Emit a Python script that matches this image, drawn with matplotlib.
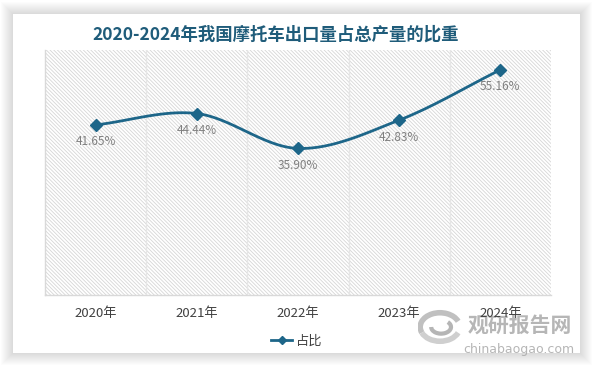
import matplotlib
matplotlib.use("Agg")
import matplotlib.pyplot as plt
import numpy as np
from matplotlib.patches import Rectangle, Arc
from matplotlib.lines import Line2D

plt.rcParams['font.family'] = ['Noto Sans CJK SC', 'DejaVu Sans']
plt.rcParams['hatch.color'] = '#d6d6d6'
plt.rcParams['hatch.linewidth'] = 0.6

years = ['2020年', '2021年', '2022年', '2023年', '2024年']
share = [41.65, 44.44, 35.90, 42.83, 55.16]
labels = ['41.65%', '44.44%', '35.90%', '42.83%', '55.16%']
title = '2020-2024年我国摩托车出口量占总产量的比重'
series_name = '占比'

W, H = 594, 366
fig = plt.figure(figsize=(W / 100, H / 100), dpi=100)
fig.patch.set_facecolor('white')

def fx(x): return x / W
def fy(y): return 1 - y / H

# card with soft shadow
cx0, cy0, cx1, cy1 = 13, 14, 580, 353
for pad in range(12, 0, -1):
    fig.patches.append(Rectangle((fx(cx0 - pad), fy(cy1 + pad)),
                                 fx(cx1 - cx0 + 2 * pad), (cy1 - cy0 + 2 * pad) / H,
                                 transform=fig.transFigure, facecolor='black',
                                 edgecolor='none', alpha=0.012, zorder=0))
fig.patches.append(Rectangle((fx(cx0), fy(cy1)), fx(cx1 - cx0), (cy1 - cy0) / H,
                             transform=fig.transFigure, facecolor='white',
                             edgecolor='none', zorder=1))

ax = fig.add_axes([fx(45), fy(295), fx(551 - 45), (295 - 50) / H])
ax.set_zorder(2)
ax.patch.set_alpha(0)
n = len(years)
x = np.arange(n)
ax.set_xlim(-0.5, n - 0.5)
ax.set_ylim(0, 60)

# hatched background
ax.add_patch(Rectangle((-0.5, 0), n, 60, facecolor='white', edgecolor='#d6d6d6',
                       hatch='\\' * 9, linewidth=0, zorder=0))
for b in np.arange(0.5, n - 0.5, 1.0):
    ax.axvline(b, color='#e6e6e6', lw=1.0, zorder=1)

for s in ['top', 'right']:
    ax.spines[s].set_visible(False)
ax.spines['left'].set_color('#d9d9d9')
ax.spines['bottom'].set_color('#d9d9d9')
ax.spines['left'].set_linewidth(1.0)
ax.spines['bottom'].set_linewidth(1.0)
ax.set_yticks([])
ax.set_xticks(x)
ax.set_xticklabels(years, fontsize=9.5, color='#404040')
ax.tick_params(axis='x', length=0, pad=9)

# smooth curve (Catmull-Rom through the data points)
def catmull(xs, ys, k=30, t=0.5):
    P = np.column_stack([xs, ys]).astype(float)
    P = np.vstack([P[0] - (P[1] - P[0]), P, P[-1] + (P[-1] - P[-2])])
    out = []
    for i in range(1, len(P) - 2):
        p0, p1, p2, p3 = P[i - 1], P[i], P[i + 1], P[i + 2]
        c1 = p1 + (p2 - p0) * t / 3
        c2 = p2 - (p3 - p1) * t / 3
        for u in np.linspace(0, 1, k, endpoint=False):
            out.append((1 - u) ** 3 * p1 + 3 * (1 - u) ** 2 * u * c1
                       + 3 * (1 - u) * u ** 2 * c2 + u ** 3 * p2)
    out.append(P[-2])
    return np.array(out)

sx, sy = 506 / n, 245 / 60
cur = catmull(x * sx, np.array(share) * sy, t=0.5)
line_color = '#1d6689'
ax.plot(cur[:, 0] / sx, cur[:, 1] / sy, color=line_color, lw=2.0, zorder=3,
        solid_capstyle='round')
ax.plot(x, share, linestyle='none', marker='D', markersize=6, color=line_color, zorder=4)

for xi, yi, lab in zip(x, share, labels):
    ax.annotate(lab, (xi, yi), xytext=(0, -17), textcoords='offset pixels',
                ha='center', va='center', fontsize=8.5, color='#808080', zorder=5)

fig.text(fx(276), fy(35), title, ha='center', va='center', fontsize=12.5,
         fontweight='bold', color='#1f5c7a', zorder=3)

# legend
leg_handle = Line2D([0], [0], color=line_color, lw=2, marker='D', markersize=4)
fig.legend([leg_handle], [series_name], loc='center', bbox_to_anchor=(fx(297), fy(341)),
           frameon=False, fontsize=9.5, handlelength=1.6, handletextpad=0.3,
           labelcolor='#404040')

# watermark
fig.text(fx(520), fy(325), '观研报告网', ha='center', va='center', fontsize=15,
         fontweight='bold', color='#a9a9a9', alpha=0.85, zorder=1.5)
fig.text(fx(519), fy(349), 'chinabaogao.com', ha='center', va='center', fontsize=9,
         color='#a9a9a9', alpha=0.85, zorder=1.5, family=['DejaVu Sans'])
lax = fig.add_axes([fx(418), fy(346), fx(44), 38 / H])
lax.set_xlim(-1, 1); lax.set_ylim(-1, 1); lax.axis('off')
lax.set_zorder(1.5)
lax.add_patch(Arc((0, 0), 1.8, 1.5, theta1=20, theta2=200, lw=4, color='#c0c0c0'))
lax.add_patch(Arc((0, 0), 1.8, 1.5, theta1=200, theta2=340, lw=4, color='#cfcfcf'))
lax.add_patch(Arc((0.05, 0), 0.9, 0.7, theta1=180, theta2=400, lw=3, color='#b5b5b5'))

fig.savefig('out.png', dpi=100)
